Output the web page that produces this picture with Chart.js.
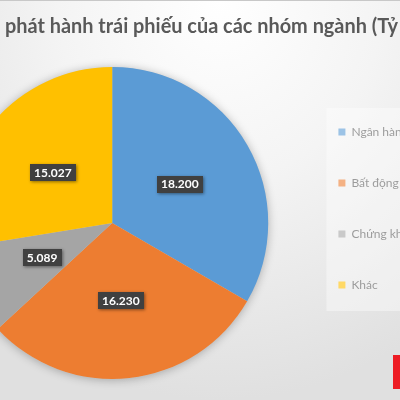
<!DOCTYPE html>
<html>
<head>
<meta charset="utf-8">
<script src="https://cdn.jsdelivr.net/npm/chart.js@4.4.1/dist/chart.umd.min.js"></script>
<style>
  html, body { margin: 0; padding: 0; }
  body {
    width: 400px; height: 400px; overflow: hidden; position: relative;
    background: radial-gradient(ellipse 90% 100% at 55% 0%, #ffffff 0%, #f4f4f4 45%, #e0e0e0 100%);
  }
  #topline { position: absolute; left: 0; top: 0; width: 400px; height: 1px; background: #c8c8c8; }
  #logo { position: absolute; left: 393px; top: 355px; width: 7px; height: 34px; background: #ed1c24; }
  #chart { position: absolute; left: -120px; top: 0; }
</style>
</head>
<body>
<div id="topline"></div>
<canvas id="chart" width="644" height="400"></canvas>
<div id="logo"></div>
<script>
const titleText = "Tình hình phát hành trái phiếu của các nhóm ngành (Tỷ đồng)";
const categories = ["Ngân hàng", "Bất động sản", "Chứng khoán", "Khác"];
const values = [18200, 16230, 5089, 15027];
const colors = ["#5b9bd5", "#ed7d31", "#a5a5a5", "#ffc000"];

const canvasLeft = -120; // the canvas is wider than the window, the picture is a crop of it

function fmt(v) {
    return String(v).replace(/\B(?=(\d{3})+(?!\d))/g, ".");
}

// title: wider than the window, so it is placed by hand so the crop matches
const cropTitle = {
    id: "cropTitle",
    beforeDatasetsDraw(chart) {
        const ctx = chart.ctx;
        ctx.save();
        ctx.font = "bold 100px Lato";
        const visible = "phát hành trái phiếu của các nhóm ngành (Tỷ";
        const size = 100 * 393 / ctx.measureText(visible).width;
        ctx.font = "bold " + size.toFixed(2) + "px Lato";
        const lead = ctx.measureText("Tình hình ").width;
        ctx.fillStyle = "#595959";
        ctx.textAlign = "left";
        ctx.textBaseline = "middle";
        ctx.fillText(titleText, 5 - lead - canvasLeft, 27);
        ctx.restore();
    }
};

// soft shadow under the whole pie + light panel behind the legend
const backdrop = {
    id: "backdrop",
    beforeDatasetsDraw(chart) {
        const ctx = chart.ctx;
        const arc = chart.getDatasetMeta(0).data[0];
        if (!arc) return;
        ctx.save();
        const boxes = chart.legend.legendHitBoxes;
        if (boxes && boxes.length) {
            const first = boxes[0], last = boxes[boxes.length - 1];
            ctx.fillStyle = "rgba(255,255,255,0.4)";
            ctx.fillRect(first.left - 12, first.top - 18, 200, last.top + last.height - first.top + 38);
        }
        ctx.shadowColor = "rgba(0,0,0,0.28)";
        ctx.shadowBlur = 10;
        ctx.shadowOffsetY = 1;
        ctx.fillStyle = "#ccc";
        ctx.beginPath();
        ctx.arc(arc.x, arc.y, arc.outerRadius, 0, Math.PI * 2);
        ctx.fill();
        ctx.restore();
    }
};

// dark value boxes in each slice
const valueBoxes = {
    id: "valueBoxes",
    afterDatasetsDraw(chart) {
        const ctx = chart.ctx;
        const meta = chart.getDatasetMeta(0);
        ctx.save();
        ctx.font = "bold 12px Lato";
        ctx.textAlign = "center";
        ctx.textBaseline = "middle";
        meta.data.forEach((arc, i) => {
            const p = arc.tooltipPosition();
            const txt = fmt(values[i]);
            const w = ctx.measureText(txt).width + 8;
            const h = 17;
            ctx.save();
            ctx.shadowColor = "rgba(0,0,0,0.45)";
            ctx.shadowBlur = 3;
            ctx.shadowOffsetX = 1;
            ctx.shadowOffsetY = 1;
            ctx.fillStyle = "#404040";
            ctx.fillRect(Math.round(p.x - w / 2), Math.round(p.y - h / 2), Math.round(w), h);
            ctx.restore();
            ctx.fillStyle = "#ffffff";
            ctx.fillText(txt, p.x, p.y + 0.5);
        });
        ctx.restore();
    }
};

new Chart(document.getElementById("chart"), {
    type: "pie",
    data: {
        labels: categories,
        datasets: [{
            data: values,
            backgroundColor: colors,
            borderWidth: 0,
            hoverOffset: 0,
            offset: 0
        }]
    },
    options: {
        responsive: false,
        animation: false,
        layout: { padding: { left: 45, right: 92, top: 67, bottom: 21 } },
        plugins: {
            tooltip: { enabled: false },
            title: { display: false },
            legend: {
                position: "right",
                align: "start",
                fullSize: false,
                title: { display: true, text: " ", font: { size: 10, lineHeight: 1.2 }, padding: { top: 4, bottom: 4 } },
                labels: {
                    boxWidth: 7,
                    boxHeight: 7,
                    padding: 39,
                    color: "#595959",
                    font: { family: "Lato", size: 12 }
                }
            }
        }
    },
    plugins: [cropTitle, backdrop, valueBoxes]
});
</script>
</body>
</html>
